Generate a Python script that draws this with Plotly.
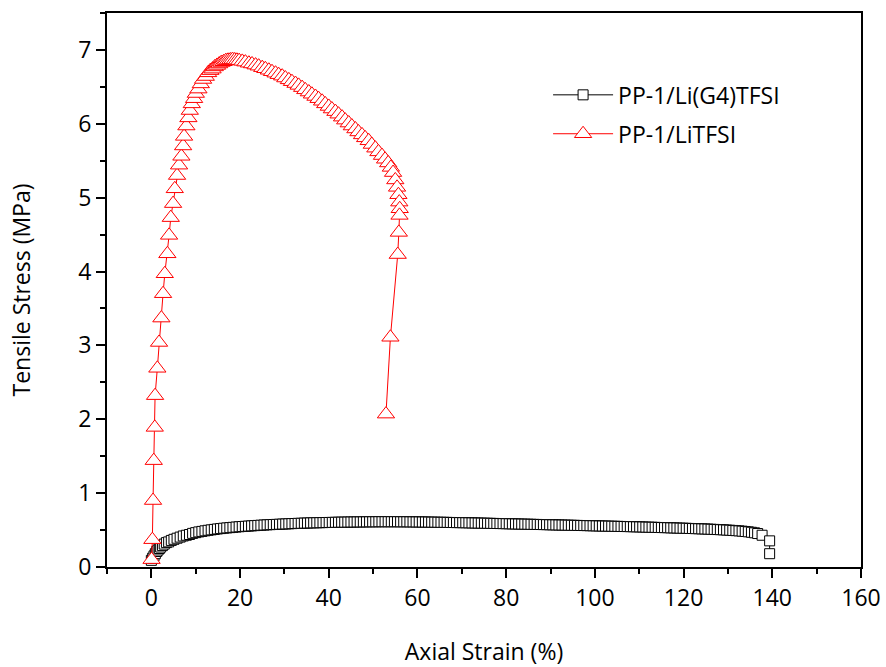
import plotly.graph_objects as go

# PP-1/Li(G4)TFSI  (black squares)
g4_strain = [
    0.0, 0.3, 0.6, 0.9, 1.2, 1.5, 1.8, 2.1, 2.5, 2.9,
    3.4, 3.9, 4.5, 5.1, 5.8, 6.5, 7.2, 7.9, 8.6, 9.3,
    10.0, 10.7, 11.4, 12.1, 12.8, 13.5, 14.2, 14.9, 15.6, 16.3,
    17.0, 17.7, 18.4, 19.1, 19.8, 20.5, 21.2, 21.9, 22.6, 23.3,
    24.0, 24.7, 25.4, 26.1, 26.8, 27.5, 28.2, 28.9, 29.6, 30.3,
    31.0, 31.7, 32.4, 33.1, 33.8, 34.5, 35.2, 35.9, 36.6, 37.3,
    38.0, 38.7, 39.4, 40.1, 40.8, 41.5, 42.2, 42.9, 43.6, 44.3,
    45.0, 45.7, 46.4, 47.1, 47.8, 48.5, 49.2, 49.9, 50.6, 51.3,
    52.0, 52.7, 53.4, 54.1, 54.8, 55.5, 56.2, 56.9, 57.6, 58.3,
    59.0, 59.7, 60.4, 61.1, 61.8, 62.5, 63.2, 63.9, 64.6, 65.3,
    66.0, 66.7, 67.4, 68.1, 68.8, 69.5, 70.2, 70.9, 71.6, 72.3,
    73.0, 73.7, 74.4, 75.1, 75.8, 76.5, 77.2, 77.9, 78.6, 79.3,
    80.0, 80.7, 81.4, 82.1, 82.8, 83.5, 84.2, 84.9, 85.6, 86.3,
    87.0, 87.7, 88.4, 89.1, 89.8, 90.5, 91.2, 91.9, 92.6, 93.3,
    94.0, 94.7, 95.4, 96.1, 96.8, 97.5, 98.2, 98.9, 99.6, 100.3,
    101.0, 101.7, 102.4, 103.1, 103.8, 104.5, 105.2, 105.9, 106.6, 107.3,
    108.0, 108.7, 109.4, 110.1, 110.8, 111.5, 112.2, 112.9, 113.6, 114.3,
    115.0, 115.7, 116.4, 117.1, 117.8, 118.5, 119.2, 119.9, 120.6, 121.3,
    122.0, 122.7, 123.4, 124.1, 124.8, 125.5, 126.2, 126.9, 127.6, 128.3,
    129.0, 129.7, 130.4, 131.1, 131.8, 132.5, 133.2, 133.9, 134.6, 135.3,
    136.0, 136.7, 137.7, 139.4, 139.4,
]
g4_stress = [
    0.09, 0.12, 0.15, 0.18, 0.21, 0.23, 0.25, 0.27, 0.29, 0.31,
    0.33, 0.34, 0.36, 0.375, 0.39, 0.405, 0.42, 0.43, 0.44, 0.455,
    0.465, 0.475, 0.482, 0.49, 0.497, 0.503, 0.509, 0.515, 0.52, 0.525,
    0.529, 0.533, 0.537, 0.541, 0.545, 0.548, 0.551, 0.554, 0.557, 0.56,
    0.563, 0.566, 0.568, 0.571, 0.573, 0.575, 0.577, 0.579, 0.581, 0.583,
    0.585, 0.587, 0.589, 0.591, 0.592, 0.594, 0.595, 0.597, 0.598, 0.599,
    0.600, 0.601, 0.602, 0.603, 0.604, 0.605, 0.606, 0.607, 0.607, 0.608,
    0.609, 0.609, 0.610, 0.610, 0.611, 0.611, 0.612, 0.612, 0.612, 0.613,
    0.613, 0.613, 0.613, 0.613, 0.613, 0.613, 0.612, 0.612, 0.612, 0.611,
    0.611, 0.610, 0.610, 0.609, 0.609, 0.608, 0.607, 0.607, 0.606, 0.605,
    0.605, 0.604, 0.603, 0.602, 0.601, 0.601, 0.600, 0.599, 0.598, 0.597,
    0.596, 0.595, 0.594, 0.593, 0.592, 0.591, 0.590, 0.589, 0.588, 0.587,
    0.586, 0.585, 0.584, 0.583, 0.582, 0.581, 0.580, 0.579, 0.578, 0.577,
    0.576, 0.575, 0.574, 0.573, 0.572, 0.571, 0.570, 0.569, 0.568, 0.567,
    0.566, 0.565, 0.564, 0.563, 0.562, 0.561, 0.560, 0.559, 0.558, 0.557,
    0.556, 0.555, 0.554, 0.553, 0.552, 0.551, 0.550, 0.549, 0.548, 0.547,
    0.546, 0.545, 0.544, 0.543, 0.542, 0.540, 0.539, 0.538, 0.537, 0.535,
    0.534, 0.533, 0.532, 0.530, 0.529, 0.528, 0.526, 0.525, 0.524, 0.522,
    0.521, 0.519, 0.518, 0.516, 0.515, 0.513, 0.511, 0.509, 0.507, 0.505,
    0.503, 0.500, 0.498, 0.495, 0.492, 0.489, 0.485, 0.481, 0.476, 0.470,
    0.463, 0.453, 0.430, 0.354, 0.180,
]

# PP-1/LiTFSI  (red triangles)
li_strain = [
    0.05, 0.23, 0.38, 0.54, 0.77, 0.84, 1.35, 1.74, 2.26, 2.64,
    3.03, 3.61, 4.00, 4.38, 4.90, 5.28, 5.80, 6.25, 6.77, 7.16,
    7.38, 7.90, 8.35, 8.67, 9.12, 9.64, 10.03, 10.61, 11.15, 11.67,
    12.28, 12.8, 13.3, 13.8, 14.3, 14.8, 15.3, 15.8, 16.3, 16.8,
    17.3, 17.8, 18.3, 18.8, 19.3, 19.8, 20.5, 21.2, 22.0, 22.7,
    23.5, 24.2, 25.0, 25.7, 26.5, 27.2, 28.0, 28.7, 29.5, 30.2,
    31.0, 31.7, 32.5, 33.2, 34.0, 34.7, 35.5, 36.2, 37.0, 37.7,
    38.5, 39.2, 40.0, 40.7, 41.5, 42.2, 43.0, 43.7, 44.5, 45.2,
    46.0, 46.7, 47.5, 48.2, 49.0, 49.7, 50.5, 51.2, 52.0, 52.7,
    53.4, 54.0, 54.5, 55.0, 55.4, 55.7, 55.9, 56.0, 55.95, 55.8,
    55.55, 53.9, 52.9,
]
li_stress = [
    0.10, 0.37, 0.90, 1.44, 1.89, 2.32, 2.69, 3.04, 3.37, 3.70,
    3.97, 4.24, 4.49, 4.73, 4.92, 5.12, 5.30, 5.44, 5.56, 5.70,
    5.83, 5.97, 6.08, 6.18, 6.27, 6.34, 6.41, 6.47, 6.54, 6.60,
    6.64, 6.69, 6.72, 6.74, 6.77, 6.79, 6.81, 6.83, 6.84, 6.855,
    6.86, 6.865, 6.87, 6.865, 6.86, 6.855, 6.845, 6.835, 6.82, 6.81,
    6.795, 6.78, 6.76, 6.745, 6.725, 6.705, 6.685, 6.665, 6.645, 6.62,
    6.595, 6.57, 6.545, 6.52, 6.49, 6.46, 6.43, 6.40, 6.37, 6.34,
    6.305, 6.27, 6.235, 6.20, 6.165, 6.13, 6.09, 6.05, 6.01, 5.97,
    5.93, 5.89, 5.85, 5.81, 5.77, 5.72, 5.67, 5.62, 5.57, 5.52,
    5.47, 5.41, 5.34, 5.24, 5.14, 5.04, 4.94, 4.85, 4.76, 4.53,
    4.23, 3.11, 2.07,
]

x_ticks = [0, 20, 40, 60, 80, 100, 120, 140, 160]
y_ticks = [0, 1, 2, 3, 4, 5, 6, 7]

FONT = "Open Sans"

fig = go.Figure()
fig.add_trace(go.Scatter(
    x=g4_strain, y=g4_stress, mode="lines+markers", name="PP-1/Li(G4)TFSI",
    line=dict(color="black", width=1),
    marker=dict(symbol="square", size=10, color="white",
                line=dict(color="black", width=1)),
    legendgroup="a",
))
fig.add_trace(go.Scatter(
    x=li_strain, y=li_stress, mode="lines+markers", name="PP-1/LiTFSI",
    line=dict(color="#ff0000", width=1),
    marker=dict(symbol="triangle-up", size=15, color="white",
                line=dict(color="#ff0000", width=1)),
    legendgroup="b",
))

axis_common = dict(
    showline=True, linecolor="black", linewidth=2, mirror=True,
    ticks="outside", tickcolor="black", tickwidth=2, ticklen=9,
    showgrid=False, zeroline=False, automargin=False,
    tickfont=dict(family=FONT, size=23, color="black"),
)

fig.update_xaxes(
    range=[-10, 160], tickvals=x_ticks,
    title=dict(text="Axial Strain (%)", font=dict(family=FONT, size=23, color="black"), standoff=32),
    minor=dict(dtick=10, tick0=0, ticks="outside", ticklen=5, tickwidth=2, tickcolor="black"),
    **axis_common,
)
fig.update_yaxes(
    range=[0, 7.5], tickvals=y_ticks,
    title=dict(text="Tensile Stress (MPa)", font=dict(family=FONT, size=23, color="black"), standoff=41),
    minor=dict(dtick=0.5, tick0=0, ticks="outside", ticklen=5, tickwidth=2, tickcolor="black"),
    **axis_common,
)

fig.update_layout(
    width=886, height=667,
    margin=dict(l=107, r=25, t=13, b=100),
    paper_bgcolor="white", plot_bgcolor="white",
    font=dict(family=FONT, size=23, color="black"),
    legend=dict(
        x=0.585, y=0.891, xanchor="left", yanchor="top",
        bgcolor="rgba(0,0,0,0)", borderwidth=0,
        font=dict(family=FONT, size=23, color="black"),
        traceorder="grouped", tracegroupgap=6, itemwidth=60,
    ),
    showlegend=True,
)

fig.write_html("out.html")
